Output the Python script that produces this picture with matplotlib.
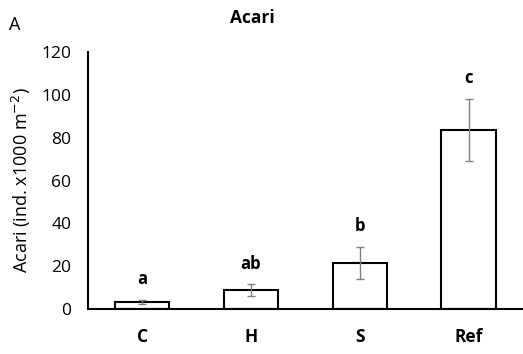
import matplotlib.pyplot as plt

plt.rcParams['font.family'] = ['Open Sans', 'DejaVu Sans']

sites = ["C", "H", "S", "Ref"]
means = [3.4, 8.9, 21.5, 83.6]
errors = [0.9, 2.6, 7.5, 14.5]
letters = ["a", "ab", "b", "c"]

fig = plt.figure(figsize=(5.23, 3.54), dpi=100)
ax = fig.add_axes([0.168, 0.127, 0.832, 0.726])

x = range(len(sites))
ax.bar(x, means, width=0.5, color="white", edgecolor="black", linewidth=1.5, zorder=2)
ax.errorbar(x, means, yerr=errors, fmt="none", ecolor="#7f7f7f", elinewidth=1,
            capsize=3, capthick=1, zorder=3)
for i in x:
    ax.text(i, means[i] + errors[i] + 5.5, letters[i], ha="center", va="bottom",
            fontsize=12, fontweight="bold")

ax.set_xlim(-0.5, 3.5)
ax.set_ylim(0, 120)
ax.set_yticks(range(0, 121, 20))
ax.set_xticks(list(x))
ax.set_xticklabels(sites, fontsize=12.5, fontweight="bold")
ax.tick_params(axis="y", length=0, labelsize=12.5, pad=12)
ax.tick_params(axis="x", length=0, pad=14)
ax.spines["top"].set_visible(False)
ax.spines["right"].set_visible(False)
ax.spines["left"].set_linewidth(1.5)
ax.spines["bottom"].set_linewidth(1.5)
ax.set_ylabel("Acari (ind. x1000 m$^{-2}$)", fontsize=13, labelpad=6)

fig.text(0.482, 0.95, "Acari", ha="center", va="center", fontsize=12.5, fontweight="bold")
fig.text(0.018, 0.93, "A", ha="left", va="center", fontsize=13)

fig.savefig("out.png", dpi=100)
